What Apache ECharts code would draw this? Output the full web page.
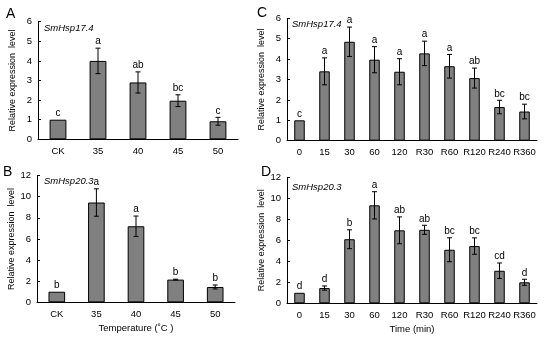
<!DOCTYPE html>
<html>
<head>
<meta charset="utf-8">
<script src="https://cdn.jsdelivr.net/npm/echarts@6/dist/echarts.min.js"></script>
<style>
html,body{margin:0;padding:0;background:#fff;}
#c{width:550px;height:339px;}
</style>
</head>
<body>
<div id="c"></div>
<script>
// ---- Data ----
const tempCats = ['CK', '35', '40', '45', '50'];
const timeCats = ['0', '15', '30', '60', '120', 'R30', 'R60', 'R120', 'R240', 'R360'];

const aValues = [1.0, 4.0, 2.9, 1.97, 0.92];
const aErrors = [0, 0.65, 0.54, 0.3, 0.2];
const aLetters = ['c', 'a', 'ab', 'bc', 'c'];

const bValues = [1.0, 9.45, 7.2, 2.15, 1.45];
const bErrors = [0, 1.3, 0.97, 0.04, 0.19];
const bLetters = ['b', 'a', 'a', 'b', 'b'];

const cValues = [1.0, 3.4, 4.85, 3.97, 3.38, 4.28, 3.65, 3.07, 1.65, 1.43];
const cErrors = [0, 0.66, 0.72, 0.64, 0.64, 0.6, 0.58, 0.49, 0.33, 0.36];
const cLetters = ['c', 'a', 'a', 'a', 'a', 'a', 'a', 'ab', 'bc', 'bc'];

const dValues = [1.0, 1.45, 6.1, 9.33, 6.95, 7.0, 5.1, 5.45, 3.1, 2.0];
const dErrors = [0, 0.2, 0.9, 1.3, 1.28, 0.43, 1.14, 0.78, 0.74, 0.29];
const dLetters = ['d', 'd', 'b', 'a', 'ab', 'ab', 'bc', 'bc', 'cd', 'd'];

const yName = 'Relative expression  level';
const FONT = '"Liberation Sans", Arial, sans-serif';

const chart = echarts.init(document.getElementById('c'), null, {renderer: 'canvas'});

const panels = [
  {cats: tempCats, vals: aValues, errs: aErrors, lets: aLetters, max: 6, interval: 1,
   grid: {left: 38, top: 21.7, width: 200, height: 117.6}, xName: ''},
  {cats: tempCats, vals: bValues, errs: bErrors, lets: bLetters, max: 12, interval: 2,
   grid: {left: 37, top: 175.6, width: 198, height: 126.7}, xName: 'Temperature (˚C )'},
  {cats: timeCats, vals: cValues, errs: cErrors, lets: cLetters, max: 6, interval: 1,
   grid: {left: 287, top: 18.3, width: 250, height: 122.4}, xName: ''},
  {cats: timeCats, vals: dValues, errs: dErrors, lets: dLetters, max: 12, interval: 2,
   grid: {left: 287, top: 177.3, width: 250, height: 126}, xName: 'Time (min)'}
];

const grids = [], xAxes = [], yAxes = [], series = [];
panels.forEach((p, i) => {
  grids.push(Object.assign({containLabel: false}, p.grid));
  xAxes.push({
    type: 'category', gridIndex: i, data: p.cats,
    axisLine: {lineStyle: {color: '#000', width: 1}},
    axisTick: {inside: true, length: 3, lineStyle: {color: '#000'}},
    axisLabel: {color: '#000', fontSize: 9.5, fontFamily: FONT, margin: 7, interval: 0},
    name: p.xName, nameLocation: 'middle', nameGap: 21,
    nameTextStyle: {color: '#000', fontSize: 9.5, fontFamily: FONT}
  });
  yAxes.push({
    type: 'value', gridIndex: i, min: 0, max: p.max, interval: p.interval,
    splitLine: {show: false},
    axisLine: {show: true, lineStyle: {color: '#000', width: 1}},
    axisTick: {show: true, inside: true, length: 3, lineStyle: {color: '#000'}},
    axisLabel: {color: '#000', fontSize: 9.5, fontFamily: FONT, margin: 6},
    name: yName, nameLocation: 'middle', nameGap: 21, nameRotate: 90,
    nameTextStyle: {color: '#000', fontSize: 9, fontFamily: FONT}
  });
  series.push({
    type: 'bar', xAxisIndex: i, yAxisIndex: i, data: p.vals, barWidth: '42%',
    itemStyle: {color: '#808080', borderColor: '#000', borderWidth: 1},
    silent: true, animation: false
  });
  const errData = p.vals.map((v, k) => [k, v, p.errs[k]]);
  series.push({
    type: 'custom', xAxisIndex: i, yAxisIndex: i, data: errData, animation: false, silent: true, z: 5,
    renderItem: function (params, api) {
      const k = api.value(0), v = api.value(1), e = api.value(2);
      const top = api.coord([k, v + e]);
      const bot = api.coord([k, v - e]);
      const cap = 2.5;
      const st = {stroke: '#000', lineWidth: 1};
      const children = [];
      if (e > 0) {
        children.push({type: 'line', shape: {x1: top[0], y1: top[1], x2: bot[0], y2: bot[1]}, style: st});
        children.push({type: 'line', shape: {x1: top[0] - cap, y1: top[1], x2: top[0] + cap, y2: top[1]}, style: st});
        children.push({type: 'line', shape: {x1: bot[0] - cap, y1: bot[1], x2: bot[0] + cap, y2: bot[1]}, style: st});
      }
      children.push({type: 'text', x: top[0], y: top[1] - 1.5,
        style: {text: p.lets[params.dataIndex], fill: '#000', font: '10px ' + FONT,
                align: 'center', verticalAlign: 'bottom'}});
      return {type: 'group', children: children};
    }
  });
});

const txt = (x, y, t, size, italic, align) => ({
  type: 'text', x: x, y: y,
  style: {text: t, fill: '#000', font: (italic ? 'italic ' : '') + size + 'px ' + FONT,
          align: align || 'left', verticalAlign: 'middle'}
});

chart.setOption({
  backgroundColor: '#fff',
  animation: false,
  grid: grids, xAxis: xAxes, yAxis: yAxes, series: series,
  graphic: [
    txt(6, 14, 'A', 14, false),
    txt(3, 172, 'B', 14, false),
    txt(257, 13, 'C', 14, false),
    txt(261, 172, 'D', 14, false),
    txt(44, 28, 'SmHsp17.4', 9.5, true),
    txt(44, 181, 'SmHsp20.3', 9.5, true),
    txt(292, 24, 'SmHsp17.4', 9.5, true),
    txt(292, 187, 'SmHsp20.3', 9.5, true)
  ]
});
</script>
</body>
</html>
